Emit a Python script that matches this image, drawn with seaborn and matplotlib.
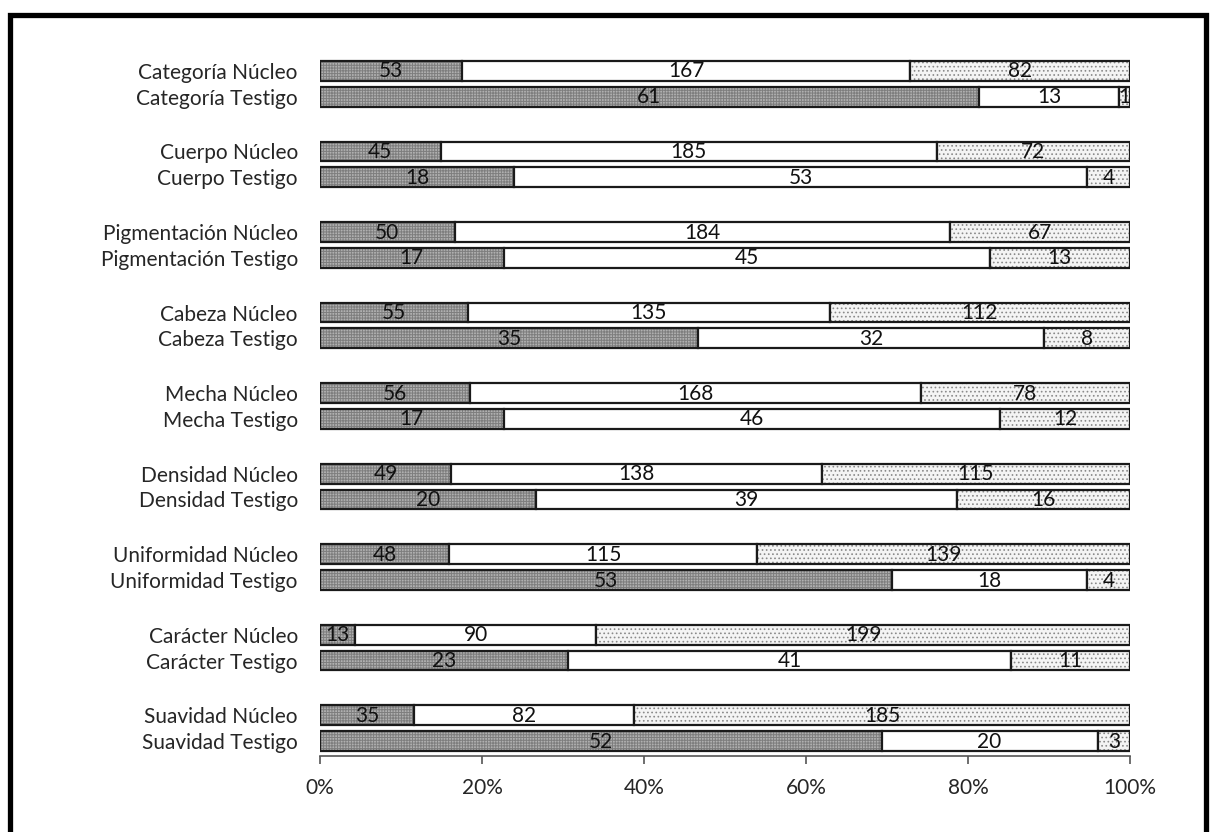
import numpy as np
import matplotlib
matplotlib.use("Agg")
import matplotlib.pyplot as plt
import seaborn as sns
from matplotlib.patches import Rectangle

sns.set_style("white")
plt.rcParams["font.family"] = ["Lato", "DejaVu Sans"]
plt.rcParams["hatch.linewidth"] = 0.7

# rows top to bottom
traits = ["Categoría", "Cuerpo", "Pigmentación", "Cabeza", "Mecha",
          "Densidad", "Uniformidad", "Carácter", "Suavidad"]
groups = ["Núcleo", "Testigo"]

# three classes per row (dark / white / light dotted)
dark_vals = [53, 61, 45, 18, 50, 17, 55, 35, 56, 17, 49, 20, 48, 53, 13, 23, 35, 52]
white_vals = [167, 13, 185, 53, 184, 45, 135, 32, 168, 46, 138, 39, 115, 18, 90, 41, 82, 20]
light_vals = [82, 1, 72, 4, 67, 13, 112, 8, 78, 12, 115, 16, 139, 4, 199, 11, 185, 3]

x_ticks = [0, 20, 40, 60, 80, 100]

labels = [f"{t} {g}" for t in traits for g in groups]
counts = np.array([dark_vals, white_vals, light_vals], dtype=float)
shares = counts / counts.sum(axis=0) * 100

group_step = 3.115
ypos = np.array([i * group_step + k for i in range(len(traits)) for k in range(2)])
bar_h = 0.77

fig = plt.figure(figsize=(12.1, 8.32), dpi=100)
ax = fig.add_axes([320 / 1210, 1 - 756 / 832, 810 / 1210, 700 / 832])

styles = [
    dict(color="#b0b0b0", hatch="++++++", hcolor="#7e7e7e"),
    dict(color="white", hatch=None, hcolor="white"),
    dict(color="#f4f4f4", hatch="....", hcolor="#8a8a8a"),
]

left = np.zeros(len(labels))
for seg, st in enumerate(styles):
    w = shares[seg]
    # fill + hatch first, then the black outline on top
    ax.barh(ypos, w, left=left, height=bar_h, color=st["color"],
            hatch=st["hatch"], edgecolor=st["hcolor"], linewidth=0)
    ax.barh(ypos, w, left=left, height=bar_h, fill=False,
            edgecolor="#1a1a1a", linewidth=1.6)
    for y, l, ww, c in zip(ypos, left, w, counts[seg]):
        ax.text(l + ww / 2, y + 0.02, f"{int(c)}", ha="center", va="center",
                fontsize=15, color="#111111")
    left = left + w

ax.set_ylim(ypos[-1] + 0.577, -0.577)
ax.set_xlim(0, 100)
ax.set_yticks(ypos)
ax.set_yticklabels(labels, fontsize=15)
ax.set_xticks(x_ticks)
ax.set_xticklabels([f"{t}%" for t in x_ticks], fontsize=15)
ax.tick_params(axis="y", length=0, pad=16)
ax.tick_params(axis="x", direction="out", length=6, width=1.2,
               color="#555555", pad=10, bottom=True)

for s in ["left", "top", "right"]:
    ax.spines[s].set_visible(False)
ax.spines["bottom"].set_color("#555555")
ax.spines["bottom"].set_linewidth(1.2)

# thick frame round the figure (bottom edge falls outside the picture)
fig.patches.append(Rectangle((9.5 / 1210, -0.05), (1206 - 9.5) / 1210, 1.05 - 15 / 832,
                             transform=fig.transFigure, fill=False,
                             edgecolor="black", linewidth=3.8, zorder=10))

fig.savefig("out.png", dpi=100)
